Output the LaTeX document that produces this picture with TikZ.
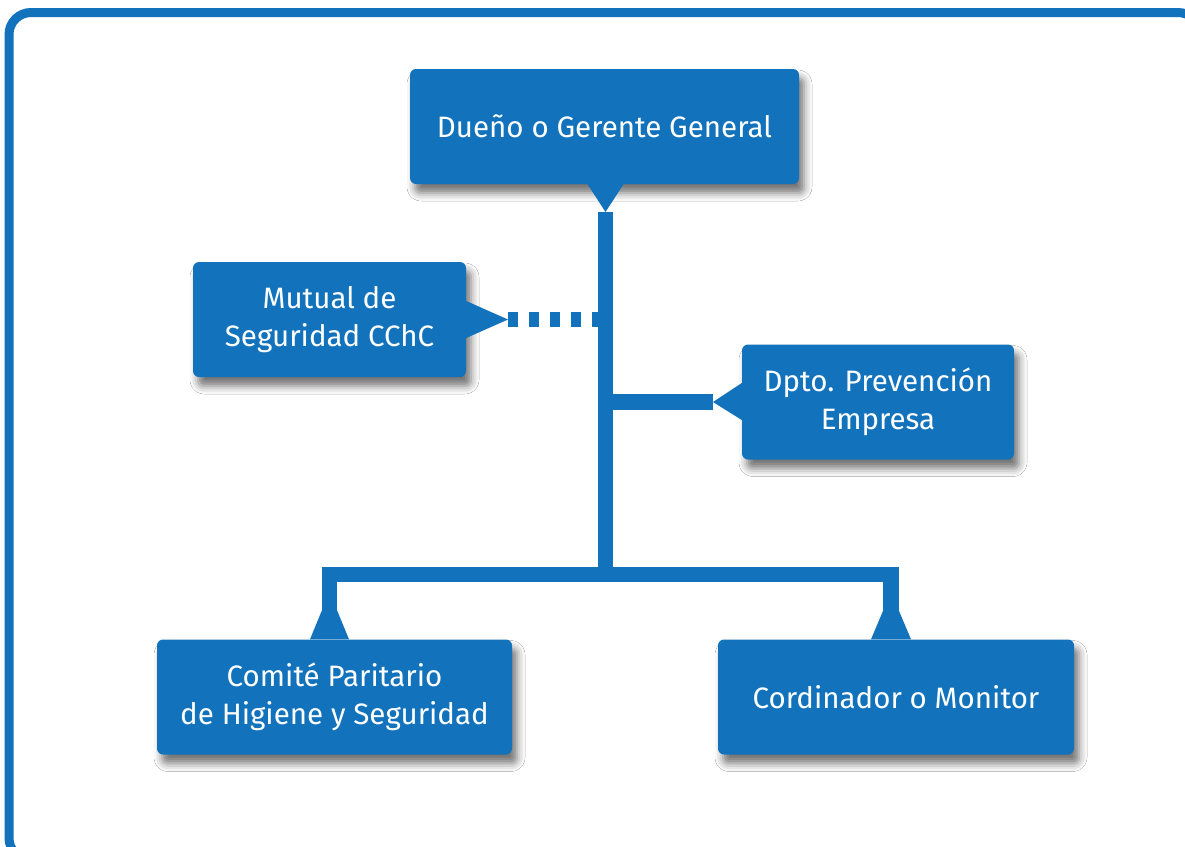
\documentclass[tikz,border=0pt]{standalone}
\usepackage{fontspec}
\setmainfont{Fira Sans}
\usetikzlibrary{calc,shadows.blur}
\definecolor{cchcazul}{RGB}{18,115,188}
\tikzset{
	cargo/.style={rectangle, rounded corners=6pt, fill=cchcazul, text=white, align=center,
		minimum height=115pt, font=\fontsize{29.5}{38}\selectfont,
		blur shadow={shadow xshift=5pt, shadow yshift=-9pt, shadow blur radius=8pt, shadow opacity=55}},
	enlace/.style={cchcazul, line width=15.5pt}
}
\begin{document}
\begin{tikzpicture}[x=1pt, y=-1pt]
			\clip (0,0) rectangle (1185,846);
			\fill[white] (0,0) rectangle (1185,846);
			\draw[cchcazul, line width=9pt, rounded corners=22pt] (9,12.5) rectangle (1200,860);
			% cargos
			\node[cargo, minimum width=389pt] (gerente) at (604.5,126.5) {Dueño o Gerente General};
			\node[cargo, minimum width=273pt] (mutual) at (329.5,319.5) {Mutual de\\Seguridad CChC};
			\node[cargo, minimum width=272pt] (dpto) at (878,402) {Dpto. Prevención\\Empresa};
			\node[cargo, minimum width=355pt] (comite) at (334.5,697) {Comité Paritario\\de Higiene y Seguridad};
			\node[cargo, minimum width=356pt] (monitor) at (896,697) {Cordinador o Monitor};
			% puntas
			\coordinate (gerenteTip) at (605.5,212);
			\coordinate (mutualTip) at (508,319.5);
			\coordinate (dptoTip) at (713,402);
			\coordinate (comiteTip) at (329.5,592);
			\coordinate (monitorTip) at (891,592);
			\fill[cchcazul] ($(gerente.south)+(-17,0)$) -- ($(gerente.south)+(19,0)$) -- (gerenteTip) -- cycle;
			\fill[cchcazul] ($(mutual.east)+(0,-18.5)$) -- ($(mutual.east)+(0,18.5)$) -- (mutualTip) -- cycle;
			\fill[cchcazul] ($(dpto.west)+(0,-19)$) -- ($(dpto.west)+(0,18)$) -- (dptoTip) -- cycle;
			\fill[cchcazul] ($(comite.north)+(-24.5,0)$) -- ($(comite.north)+(14.5,0)$) -- (comiteTip) -- cycle;
			\fill[cchcazul] ($(monitor.north)+(-25,0)$) -- ($(monitor.north)+(15,0)$) -- (monitorTip) -- cycle;
			% lineas
			\coordinate (tronco) at (605.5,574.5);
			\draw[enlace] (gerenteTip) -- (tronco);
			\draw[enlace, dash pattern=on 10pt off 11pt] (mutualTip) -- (gerenteTip |- mutualTip);
			\draw[enlace] (gerenteTip |- dptoTip) -- (dptoTip);
			\draw[enlace] ($(comiteTip)+(0,18)$) -- (comiteTip |- tronco) -- (monitorTip |- tronco) -- ($(monitorTip)+(0,18)$);
		\end{tikzpicture}
\end{document}
